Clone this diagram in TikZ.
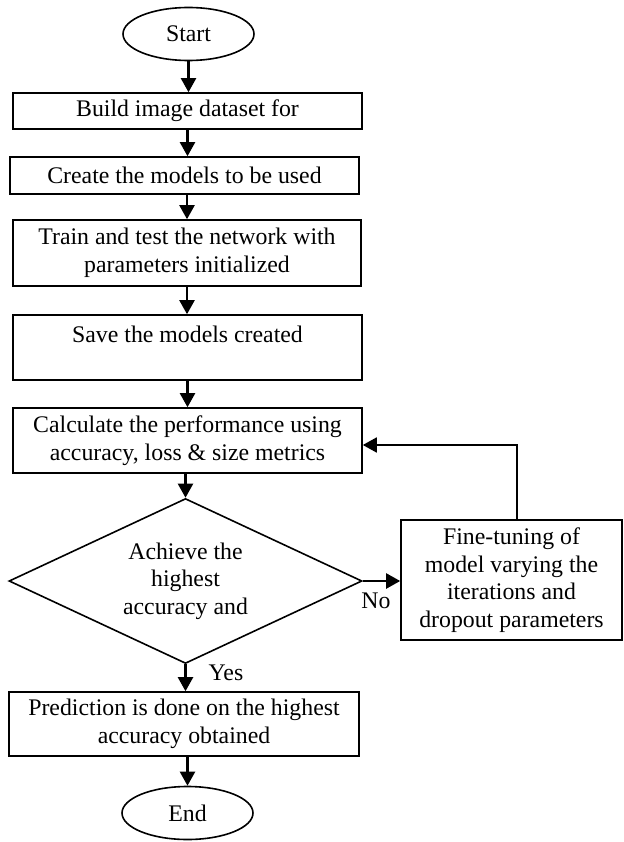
\documentclass[tikz,border=0pt]{standalone}
\usepackage{fontspec}
\setmainfont{Liberation Serif}
\usetikzlibrary{shapes.geometric,arrows.meta}
\begin{document}
\begin{tikzpicture}[x=1pt,y=-1pt,
  every node/.style={font=\fontsize{23.8}{27.5}\selectfont, inner sep=0pt, align=center},
  procbox/.style={draw, line width=1.6pt, rectangle, minimum width=349pt},
  term/.style={draw, line width=1.6pt, ellipse, minimum width=131pt, minimum height=53pt},
  decision/.style={draw, line width=1.6pt, diamond, aspect=2.14, minimum width=353pt, minimum height=165pt},
  arr/.style={line width=2.2pt, -{Triangle[width=15pt,length=14pt]}},
  ret/.style={line width=1.8pt, -{Triangle[width=15pt,length=14pt]}},
  lbl/.style={font=\fontsize{23.8}{27.5}\selectfont}
]
\useasboundingbox (0,0) rectangle (623,842);

\node[term] (start) at (188.5,34) {Start};
\node[procbox, minimum height=36pt] (b1) at (187.5,111) {Build image dataset for};
\node[procbox, minimum height=37pt] (b2) at (184.5,175.5) {Create the models to be used};
\node[procbox, minimum width=348pt, minimum height=66pt] (b3) at (187,253) {Train and test the network with\\parameters initialized};
\node[procbox, minimum height=65pt] (b4) at (187.5,347.5) {Save the models created\\~};
\node[procbox, minimum height=65pt] (b5) at (187.5,440.5) {Calculate the performance using\\accuracy, loss \& size metrics};
\node[decision] (dec) at (185.5,581) {Achieve the\\highest\\accuracy and};
\node[procbox, minimum width=221pt, minimum height=120pt] (fine) at (511.5,580) {Fine-tuning of\\model varying the\\iterations and\\dropout parameters};
\node[procbox, minimum width=350pt, minimum height=64pt] (b6) at (184,724) {Prediction is done on the highest\\accuracy obtained};
\node[term] (end) at (187.5,813) {End};

\coordinate (retc) at (517,445);

\draw[arr] (start.south) -- (start.south |- b1.north);
\draw[arr] (b1.south) -- (b1.south |- b2.north);
\draw[arr] (b3.south |- b2.south) -- (b3.north);
\draw[arr] (b3.south) -- (b3.south |- b4.north);
\draw[arr] (b4.south) -- (b4.south |- b5.north);
\draw[arr] (dec.north |- b5.south) -- (dec.north);
\draw[arr] (dec.east) -- (fine.west |- dec.east);
\draw[ret] (fine.north -| retc) -- (retc) -- (retc -| b5.east);
\draw[arr] (dec.south) -- (dec.south |- b6.north);
\draw[arr] (end.north |- b6.south) -- (end.north);

\node[lbl] (no) at (376,601) {No};
\node[lbl] (yes) at (226,673) {Yes};
\end{tikzpicture}
\end{document}
